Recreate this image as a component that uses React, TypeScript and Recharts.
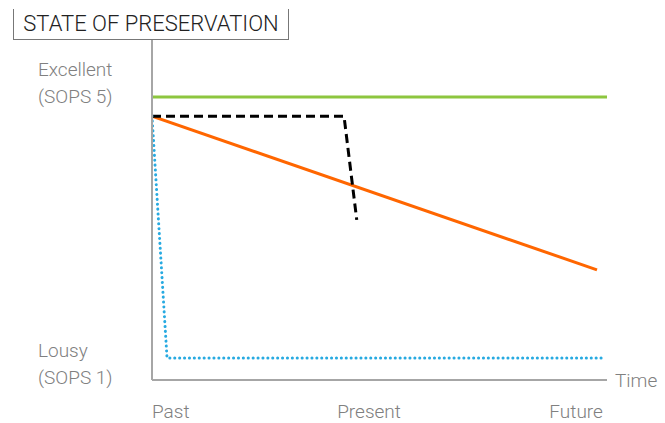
import { LineChart, Line, XAxis, YAxis } from 'recharts'

// Time axis runs 0 (past) .. 10 (future); state runs 0 .. 100
const GOOD = [{ x: 0, y: 83.2 }, { x: 10, y: 83.2 }]
const DECAY = [{ x: 0, y: 77.6 }, { x: 9.78, y: 32.4 }]
const CRASH = [{ x: 0, y: 77.6 }, { x: 4.22, y: 77.6 }, { x: 4.5, y: 47.1 }]
const NEGLECT = [{ x: 0, y: 77.6 }, { x: 0.33, y: 6.5 }, { x: 9.93, y: 6.5 }]

const X_TICKS = [0, 4.77, 9.91]
const X_LABELS = ['Past', 'Present', 'Future']
const X_ANCHORS = ['start', 'middle', 'end']

const Y_TICKS = [6.5, 83.2]
const Y_LABELS: Record<number, string[]> = {
  6.5: ['Lousy', '(SOPS 1)'],
  83.2: ['Excellent', '(SOPS 5)'],
}

const FONT = 'Roboto, "DejaVu Sans", sans-serif'
const GREY = '#808080'
const AXIS = '#a6a6a6'

function TimeTick({ x, y, index }: any) {
  return (
    <text x={x} y={y + 30} textAnchor={X_ANCHORS[index]} fill={GREY} fontSize={19} fontWeight={300} fontFamily={FONT}>
      {X_LABELS[index]}
    </text>
  )
}

function StateTick({ y, payload }: any) {
  const lines = Y_LABELS[payload.value] || []
  const dy = payload.value > 50 ? -21 : -1
  return (
    <text x={38} y={y + dy} fill={GREY} fontSize={19} fontWeight={300} fontFamily={FONT}>
      {lines.map((l, i) => (
        <tspan key={i} x={38} dy={i === 0 ? 0 : 27}>{l}</tspan>
      ))}
    </text>
  )
}

export default function App() {
  return (
    <div style={{ position: 'absolute', left: 0, top: 0, width: 665, height: 423, background: '#fff' }}>
      <LineChart width={665} height={423} margin={{ top: 40, right: 58, bottom: 0, left: 0 }}>
        <XAxis
          type="number"
          dataKey="x"
          domain={[0, 10]}
          ticks={X_TICKS}
          tick={<TimeTick />}
          tickLine={false}
          axisLine={{ stroke: AXIS, strokeWidth: 2 }}
          height={43}
          allowDataOverflow
        />
        <YAxis
          type="number"
          dataKey="y"
          domain={[0, 100]}
          ticks={Y_TICKS}
          tick={<StateTick />}
          tickLine={false}
          axisLine={{ stroke: AXIS, strokeWidth: 2 }}
          width={152}
        />
        <Line data={GOOD} dataKey="y" stroke="#8dc63f" strokeWidth={3} dot={false} isAnimationActive={false} />
        <Line data={DECAY} dataKey="y" stroke="#ff6600" strokeWidth={3} dot={false} isAnimationActive={false} />
        <Line data={CRASH} dataKey="y" stroke="#000" strokeWidth={3} strokeDasharray="9 5" dot={false} isAnimationActive={false} />
        <Line data={NEGLECT} dataKey="y" stroke="#27aae1" strokeWidth={3} strokeDasharray="0.1 4.8" strokeLinecap="round" dot={false} isAnimationActive={false} />
      </LineChart>
      <div
        style={{
          position: 'absolute', left: 13, top: 9, width: 274, height: 30,
          borderLeft: '1px solid #777', borderRight: '1px solid #777', borderBottom: '1px solid #777',
          fontFamily: FONT, fontSize: 22, fontWeight: 300, color: '#222', lineHeight: '30px', textAlign: 'center',
        }}
      >
        STATE OF PRESERVATION
      </div>
      <div style={{ position: 'absolute', left: 615, top: 369, fontFamily: FONT, fontSize: 19, fontWeight: 300, color: GREY }}>
        Time
      </div>
    </div>
  )
}
